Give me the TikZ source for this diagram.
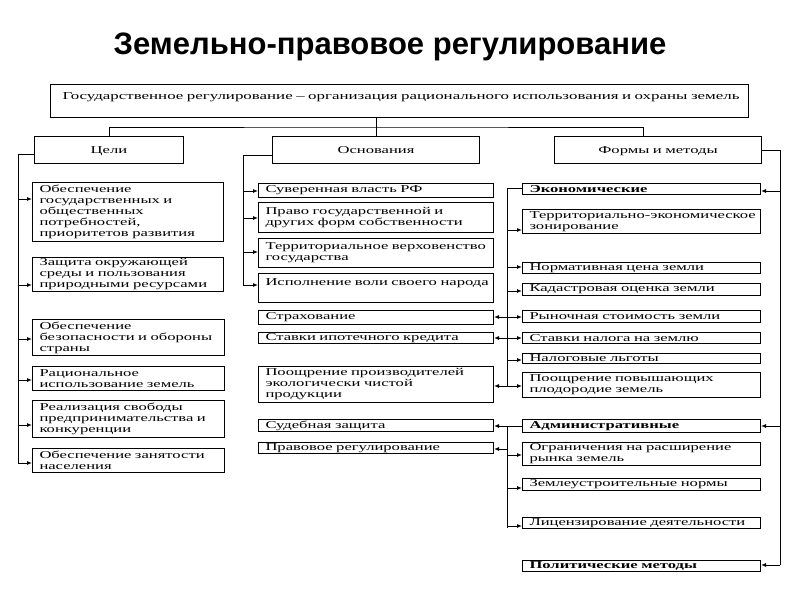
\documentclass[tikz,border=0pt]{standalone}
\usepackage{fontspec}
\setmainfont{Liberation Serif}[FakeStretch=1.58]
\newfontfamily\titlefont{Liberation Sans}
\usetikzlibrary{arrows.meta}
\newcommand\ml[1]{\mbox{#1}}
\tikzset{
  bx/.style={draw, line width=1pt, anchor=north west, inner xsep=7pt, inner ysep=0pt,
    align=left, font=\fontsize{10.5}{11}\selectfont},
  hd/.style={bx, align=center, text height=8pt, text depth=1pt},
  ln/.style={line width=1pt},
  arr/.style={line width=1pt, -{Latex[length=5pt,width=4pt]}},
}
\newcommand\mybox[6]{\node[bx,text width={#4-14},minimum height=#5] (#1) at (#2,#3) {#6};}
\begin{document}
\begin{tikzpicture}[x=1pt,y=-1pt]
\useasboundingbox[fill=white] (0,0) rectangle (800,600);
% title
\node[anchor=base, font=\titlefont\bfseries\fontsize{31}{36}\selectfont] (title) at (390,54) {Земельно-правовое регулирование};
% top box
\node[bx,inner xsep=12pt,text width=674,minimum height=33] (T) at (50,84) {\ml{\fontsize{10.7}{11}\selectfont Государственное регулирование – организация рационального использования и охраны земель}\\ \mbox{}};
% headers
\node[hd,text width=135,minimum height=27] (Celi) at (34,136) {Цели};
\node[hd,text width=193,minimum height=27] (Osn) at (272,136) {Основания};
\node[hd,text width=193,minimum height=27] (Form) at (554,136) {Формы и методы};
% left column
\mybox{L1}{32}{182}{191}{59}{\ml{Обеспечение}\\\ml{государственных и}\\\ml{общественных}\\\ml{потребностей,}\\\ml{приоритетов развития}}
\mybox{L2}{32}{257}{191}{34}{\ml{Защита окружающей}\\\ml{среды и пользования}\\\ml{природными ресурсами}}
\mybox{L3}{32}{319}{192}{36}{\ml{Обеспечение}\\\ml{безопасности и обороны}\\\ml{страны}}
\mybox{L4}{32}{366}{192}{24}{\ml{Рациональное}\\\ml{использование земель}}
\mybox{L5}{32}{400}{192}{37}{\ml{Реализация свободы}\\\ml{предпринимательства и}\\\ml{конкуренции}}
\mybox{L6}{32}{448}{192}{24}{\ml{Обеспечение занятости}\\\ml{населения}}
% middle column
\mybox{M1}{258}{183}{235}{14}{\ml{Суверенная власть РФ}}
\mybox{M2}{258}{202}{235}{30}{\ml{Право государственной и}\\\ml{других форм собственности}}
\mybox{M3}{258}{238}{235}{29}{\ml{Территориальное верховенство}\\\ml{государства}}
\mybox{M4}{258}{273}{235}{29}{\ml{Исполнение воли своего народа}\\ \mbox{}}
\mybox{M5}{258}{310}{235}{14}{\ml{Страхование}}
\mybox{M6}{258}{332}{235}{11}{\ml{Ставки ипотечного кредита}}
\mybox{M7}{258}{366}{235}{36}{\ml{Поощрение производителей}\\\ml{экологически чистой}\\\ml{продукции}}
\mybox{M8}{258}{419}{235}{12}{\ml{Судебная защита}}
\mybox{M9}{258}{442}{235}{11}{\ml{Правовое регулирование}}
% right column
\mybox{R1}{522}{183}{238}{11}{\ml{\bfseries Экономические}}
\mybox{R2}{522}{209}{238}{24}{\ml{Территориально-экономическое}\\\ml{зонирование}}
\mybox{R3}{522}{262}{238}{11}{\ml{Нормативная цена земли}}
\mybox{R4}{522}{283}{238}{12}{\ml{Кадастровая оценка земли}}
\mybox{R5}{522}{310}{238}{12}{\ml{Рыночная стоимость земли}}
\mybox{R6}{522}{332}{238}{11}{\ml{Ставки налога на землю}}
\mybox{R7}{522}{353}{238}{10}{\ml{Налоговые льготы}}
\mybox{R8}{522}{372}{238}{25}{\ml{Поощрение повышающих}\\\ml{плодородие земель}}
\mybox{R9}{522}{419}{238}{13}{\ml{\bfseries Административные}}
\mybox{R10}{522}{442}{238}{23}{\ml{Ограничения на расширение}\\\ml{рынка земель}}
\mybox{R11}{522}{478}{238}{12}{\ml{Землеустроительные нормы}}
\mybox{R12}{522}{517}{238}{11}{\ml{Лицензирование деятельности}}
\mybox{R13}{522}{560}{238}{11}{\ml{\bfseries Политические методы}}
% top connectors
\coordinate (hb) at (376,127);
\coordinate (hf) at (643,127);
\draw[ln] (Osn.north |- T.south) -- (Osn.north);
\draw[ln] (Celi.north) |- (hb) -- (hf) -- (hf |- Form.north);
% left spine
\coordinate (ls) at (18,154);
\draw[ln] (ls -| Celi.west) -- (ls) -- (18,463);
\foreach \n/\yy in {L1/199,L2/285,L3/339,L4/380,L5/425,L6/463}{
  \coordinate (s) at (18,\yy);
  \draw[arr] (s) -- (s -| \n.west);
}
% middle spine
\coordinate (ms) at (243,155);
\draw[ln] (ms -| Osn.west) -- (ms) -- (243,285);
\foreach \n/\yy in {M1/191,M2/218,M3/252,M4/285}{
  \coordinate (s) at (243,\yy);
  \draw[arr] (s) -- (s -| \n.west);
}
% right outer spine
\coordinate (rs) at (780,565);
\draw[ln] (Form.east) -| (rs);
\foreach \n/\yy in {R1/191,R9/426,R13/565}{
  \coordinate (s) at (780,\yy);
  \draw[arr] (s) -- (s -| \n.east);
}
% inner spine 1
\coordinate (is) at (507,188);
\draw[ln] (is -| R1.west) -- (is) -- (507,386);
\foreach \n/\yy in {R2/230,R3/267,R4/291,R5/317,R6/338,R7/360,R8/386}{
  \coordinate (s) at (507,\yy);
  \draw[arr] (s) -- (s -| \n.west);
}
\foreach \n/\yy in {M5/317,M6/338,M7/386}{
  \coordinate (s) at (507,\yy);
  \draw[arr] (s) -- (s -| \n.east);
}
% inner spine 2
\coordinate (js) at (507,426);
\draw[arr] (js -| R9.west) -- (js -| M8.east);
\draw[ln] (js) -- (507,528);
\foreach \n/\yy in {R10/455,R11/488,R12/526}{
  \coordinate (s) at (507,\yy);
  \draw[arr] (s) -- (s -| \n.west);
}
\coordinate (s) at (507,449);
\draw[arr] (s) -- (s -| M9.east);
\end{tikzpicture}
\end{document}
